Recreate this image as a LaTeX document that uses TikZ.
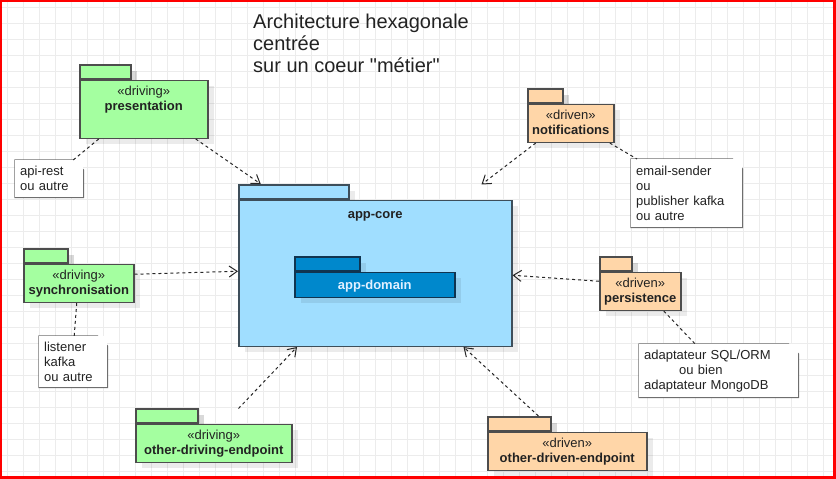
\documentclass[tikz,border=0pt]{standalone}
\usepackage{fontspec}
\setmainfont{Liberation Sans}[Ligatures=TeXOff]
\usepackage{xcolor}
\usetikzlibrary{arrows.meta,shadows,positioning}
\definecolor{drivinggreen}{RGB}{164,255,160}
\definecolor{drivenorange}{RGB}{255,214,168}
\definecolor{coreblue}{RGB}{160,222,255}
\definecolor{coreline}{RGB}{61,78,90}
\definecolor{domainblue}{RGB}{0,136,204}
\definecolor{domainline}{RGB}{16,52,80}
\definecolor{domaintext}{RGB}{225,240,255}
\definecolor{pkgline}{RGB}{77,77,77}
\definecolor{noteline}{RGB}{110,110,110}
\definecolor{gridgray}{RGB}{236,236,236}
\definecolor{textgray}{RGB}{34,34,34}

\begin{document}
\begin{tikzpicture}[x=1pt,y=-1pt,
  pkg/.style={draw=pkgline,line width=1.5pt,inner sep=0pt,anchor=north west,
    drop shadow={shadow xshift=6pt,shadow yshift=-6pt,fill=black,opacity=0.08}},
  pkgtab/.style={pkg,minimum height=14pt},
  driving/.style={pkg,fill=drivinggreen},
  driven/.style={pkg,fill=drivenorange},
  pkgname/.style={anchor=north,yshift=-6pt,inner sep=0pt,align=center,
    text=textgray,font=\fontsize{13}{15}\selectfont},
  note/.style={fill=white,inner xsep=5pt,inner ysep=0pt,align=left,anchor=north west,
    text=textgray,font=\fontsize{13}{15}\selectfont,
    append after command={\pgfextra{\draw[noteline,line width=1.5pt,line join=miter]
      (\tikzlastnode.north west)--([xshift=-10pt]\tikzlastnode.north east)
      --([yshift=-10pt]\tikzlastnode.north east)--(\tikzlastnode.south east)
      --(\tikzlastnode.south west)--cycle
      ([xshift=-10pt]\tikzlastnode.north east)|-([yshift=-10pt]\tikzlastnode.north east);}}},
  link/.style={draw=black!85,line width=1pt,dash pattern=on 3pt off 3pt},
  uses/.style={link,-{Straight Barb[length=8pt,width=11pt]}}]
\useasboundingbox(0,0) rectangle (836,479);
\foreach \x in {7,23,...,831} \draw[gridgray,line width=1pt](\x,2)--(\x,477);
\foreach \y in {7,23,...,471} \draw[gridgray,line width=1pt](2,\y)--(834,\y);
\draw[red,line width=2.5pt](1.2,1.2) rectangle (834.5,477.5);
\node[anchor=north west,inner sep=0pt,align=left,text=textgray,font=\fontsize{20}{22}\selectfont](title) at (253,14)
  {Architecture hexagonale\\centrée\\sur un coeur "métier"};
%
\node[pkgtab,fill=coreblue,draw=coreline,minimum width=110pt](coreTab) at (238,184){};
\node[pkg,fill=coreblue,draw=coreline,minimum width=273pt,minimum height=146pt,below right=0pt of coreTab.south west,
  label={[pkgname,yshift=-6pt]north:\textbf{app-core}}](core){};
\node[pkgtab,fill=domainblue,draw=domainline,minimum width=65pt](domainTab) at (294,256){};
\node[pkg,fill=domainblue,draw=domainline,minimum width=160pt,minimum height=25pt,below right=0pt of domainTab.south west,
  label={[pkgname,yshift=-2pt,text=domaintext]north:\textbf{app-domain}}](domain){};
%
\node[driving,pkgtab,minimum width=51pt](presTab) at (79,64){};
\node[driving,minimum width=128pt,minimum height=58pt,below right=0pt of presTab.south west,
  label={[pkgname]north:{«driving»\\\textbf{presentation}}}](pres){};
\node[driving,pkgtab,minimum width=44pt](syncTab) at (23,248){};
\node[driving,minimum width=110pt,minimum height=38pt,below right=0pt of syncTab.south west,
  label={[pkgname]north:{«driving»\\\textbf{synchronisation}}}](sync){};
\node[driving,pkgtab,minimum width=62pt](drivingEndTab) at (135,408){};
\node[driving,minimum width=156pt,minimum height=38pt,below right=0pt of drivingEndTab.south west,
  label={[pkgname]north:{«driving»\\\textbf{other-driving-endpoint}}}](drivingEnd){};
%
\node[driven,pkgtab,minimum width=35pt](notifTab) at (527,88){};
\node[driven,minimum width=86pt,minimum height=38pt,below right=0pt of notifTab.south west,
  label={[pkgname]north:{«driven»\\\textbf{notifications}}}](notif){};
\node[driven,pkgtab,minimum width=32pt](persistTab) at (599,256){};
\node[driven,minimum width=81pt,minimum height=38pt,below right=0pt of persistTab.south west,
  label={[pkgname]north:{«driven»\\\textbf{persistence}}}](persist){};
\node[driven,pkgtab,minimum width=63pt](drivenEndTab) at (487,416){};
\node[driven,minimum width=159pt,minimum height=38pt,below right=0pt of drivenEndTab.south west,
  label={[pkgname]north:{«driven»\\\textbf{other-driven-endpoint}}}](drivenEnd){};
%
\node[note,text width=58pt,minimum height=37pt](apiNote) at (15,160){api-rest\\ou autre};
\node[note,text width=101pt,minimum height=68pt](emailNote) at (631,159){email-sender\\ou\\publisher kafka\\ou autre};
\node[note,text width=58pt,minimum height=51pt](listenerNote) at (39,336){listener\\kafka\\ou autre};
\node[note,text width=149pt,minimum height=53pt](adaptNote) at (639,344)
  {adaptateur SQL/ORM\\\hspace*{35pt}ou bien\\adaptateur MongoDB};
%
\coordinate(coreNE) at ([xshift=-31pt,yshift=15pt]core.north east);
\coordinate(drivingFree) at ([xshift=-54pt,yshift=15pt]drivingEnd.north east);
\draw[uses]([xshift=52pt]pres.south)--([xshift=-33pt]coreTab.north);
\draw[link]([xshift=-45pt]pres.south)--([xshift=24pt]apiNote.north);
\draw[uses]([xshift=-35pt]notif.south)--(coreNE);
\draw[link]([xshift=39pt]notif.south)--([xshift=6pt]emailNote.north west);
\draw[uses]([yshift=9pt]sync.east)--([yshift=2pt]core.west);
\draw[link]([xshift=-2pt]sync.south)--([xshift=1pt]listenerNote.north);
\draw[uses]([yshift=10pt]persist.west)--([yshift=-2pt]core.east);
\draw[link]([xshift=23.5pt]persist.south)--([xshift=-23.5pt]adaptNote.north);
\draw[uses](drivingFree)--([xshift=59pt]core.south west);
\draw[uses]([xshift=-13pt]drivenEndTab.north east)--([xshift=-49pt]core.south east);
\end{tikzpicture}
\end{document}
